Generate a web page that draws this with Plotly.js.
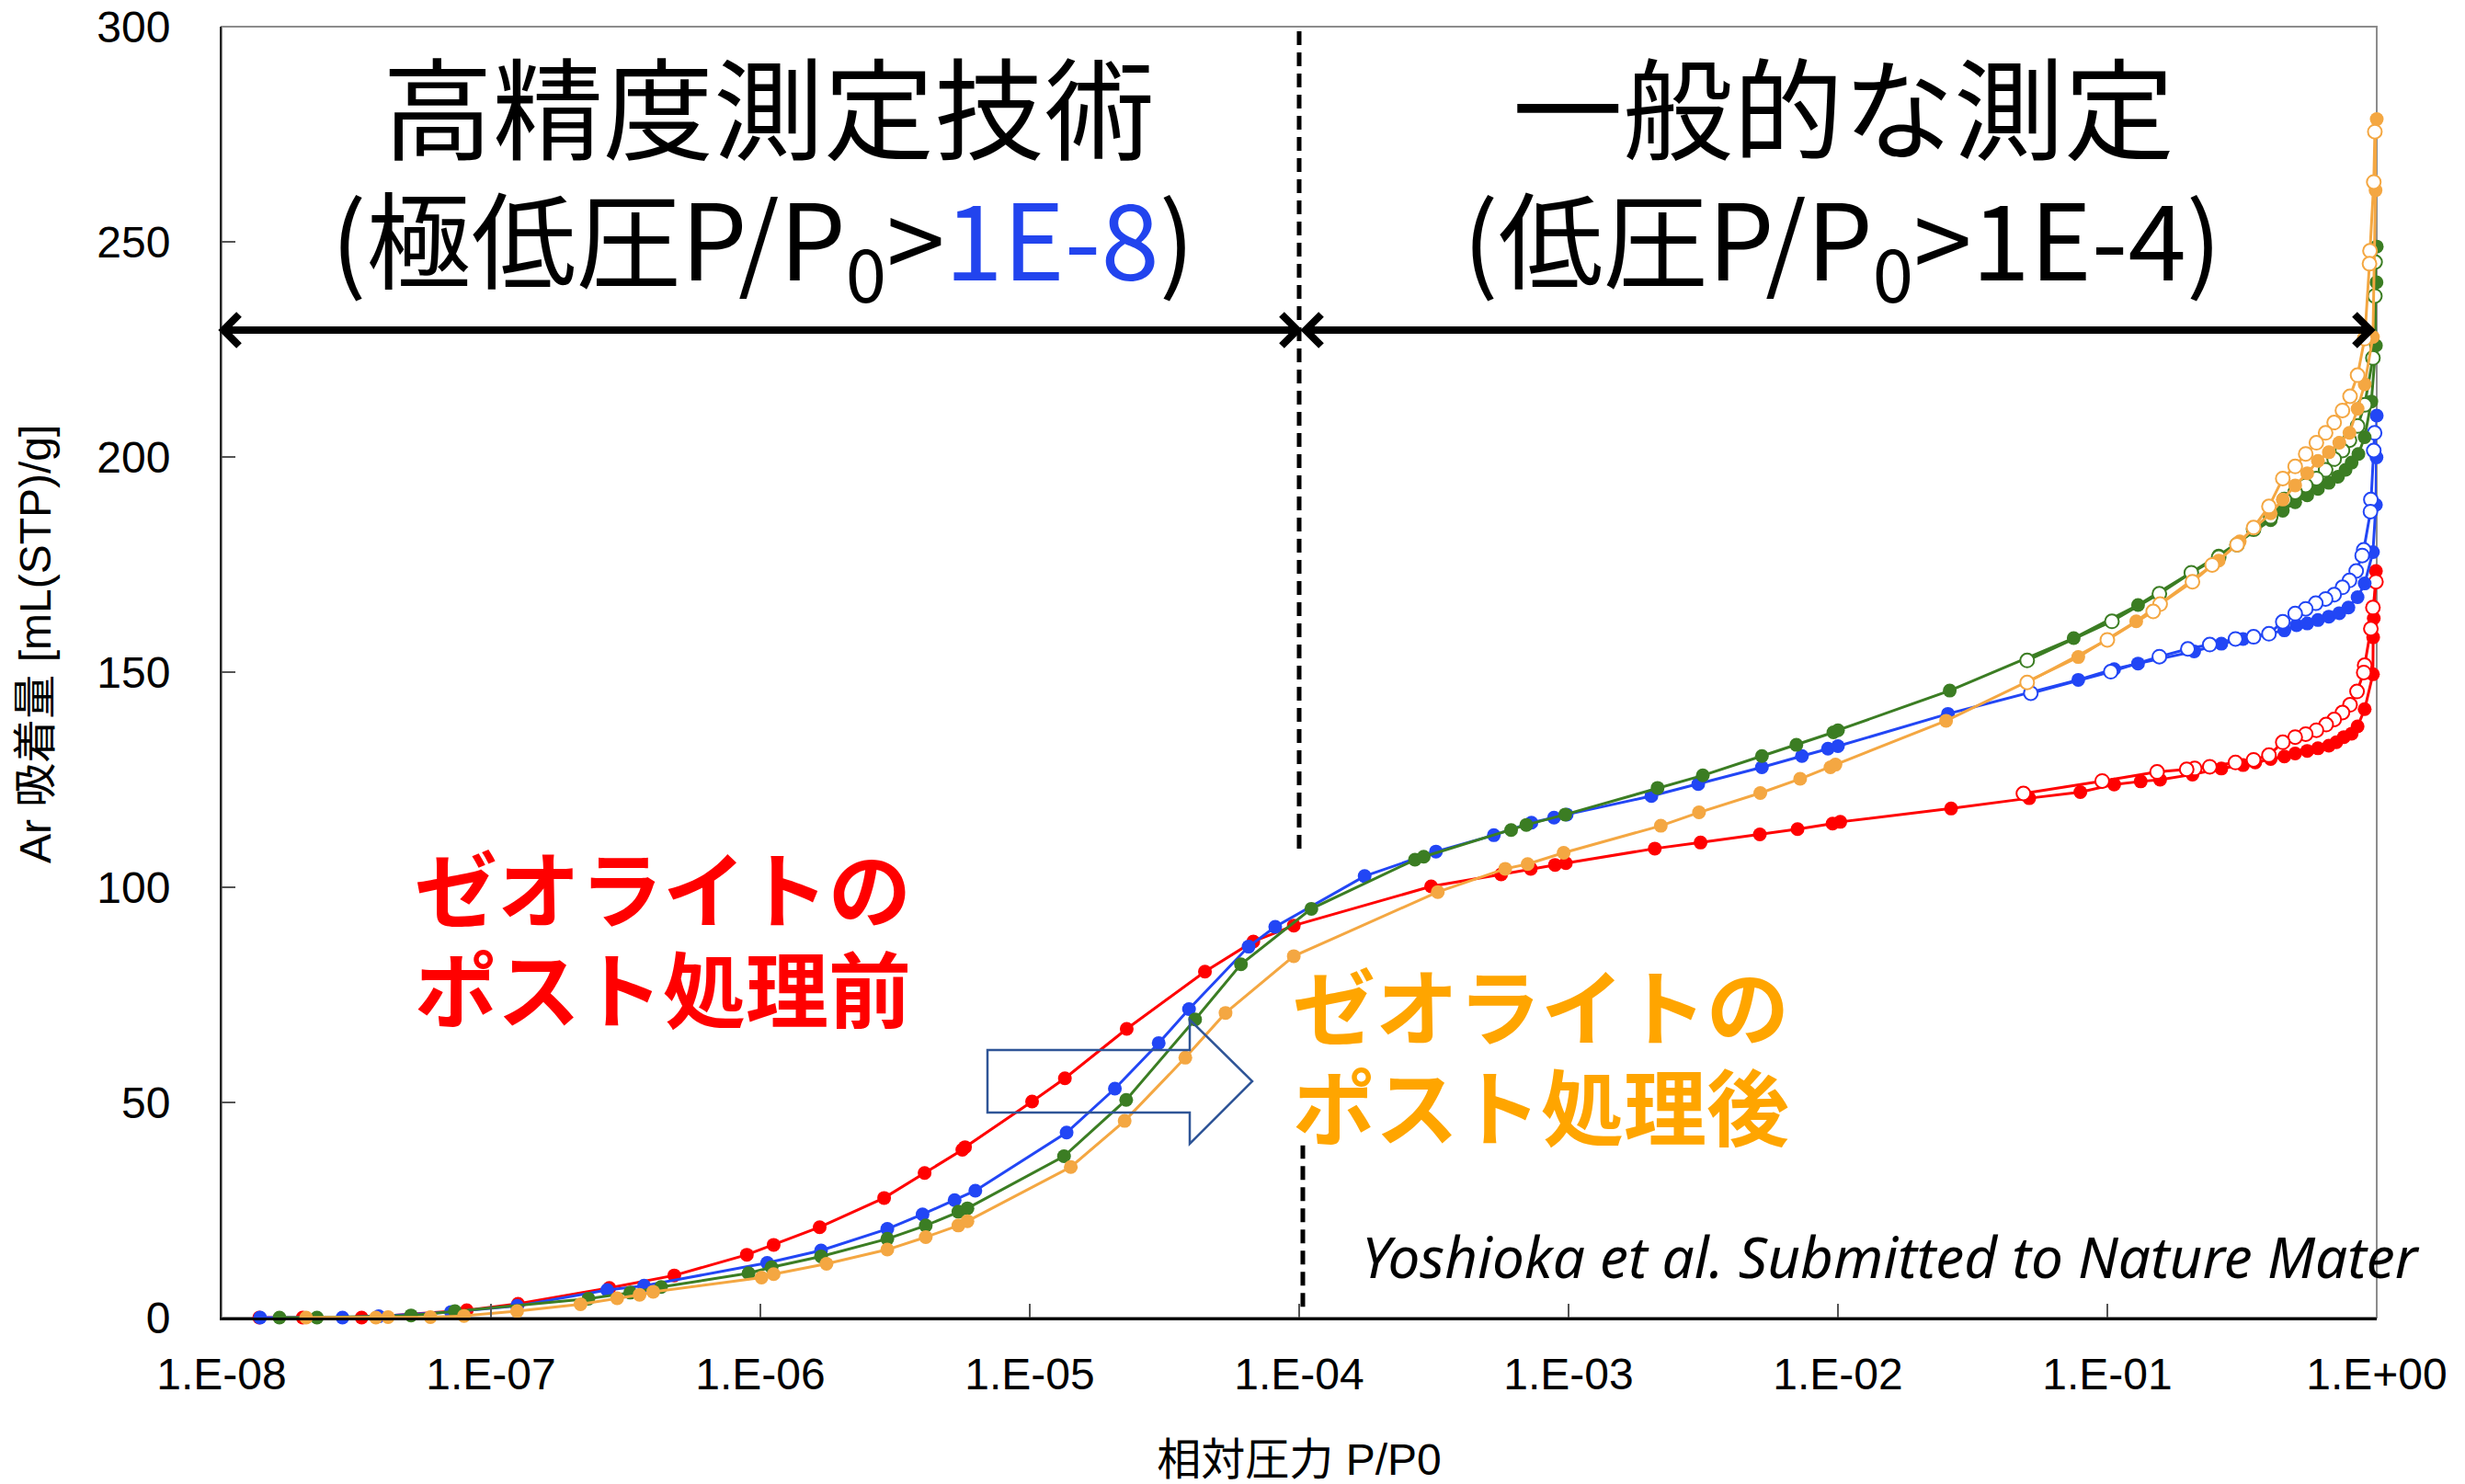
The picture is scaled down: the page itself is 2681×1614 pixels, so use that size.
<!DOCTYPE html>
<html><head><meta charset="utf-8">
<script src="https://cdn.plot.ly/plotly-3.0.1.min.js"></script>
<style>html,body{margin:0;padding:0;background:#fff;}#chart{width:2681px;height:1614px;}</style>
</head><body><div id="chart"></div>
<script>
// ---- axis ticks ----
const xTickVals = [1e-8, 1e-7, 1e-6, 1e-5, 1e-4, 1e-3, 1e-2, 1e-1, 1];
const xTickText = ['1.E-08','1.E-07','1.E-06','1.E-05','1.E-04','1.E-03','1.E-02','1.E-01','1.E+00'];
const yTickVals = [0, 50, 100, 150, 200, 250, 300];

// ---- ゼオライト ポスト処理前 (red) ----
const redAdsX = [1.38e-8,2.0e-8,3.31e-8,8.13e-8,1.26e-7,2.75e-7,4.79e-7,8.91e-7,1.12e-6,1.66e-6,2.88e-6,4.07e-6,5.62e-6,5.75e-6,1.02e-5,1.35e-5,2.29e-5,4.47e-5,6.76e-5,9.55e-5,3.09e-4,5.62e-4,7.24e-4,8.91e-4,9.77e-4,2.09e-3,3.09e-3,5.13e-3,7.08e-3,9.55e-3,1.02e-2,2.63e-2,5.13e-2,7.94e-2,0.106,0.133,0.157,0.207,0.265,0.319,0.354,0.404,0.454,0.498,0.552,0.605,0.664,0.708,0.755,0.807,0.849,0.902,0.968,0.970,0.975,0.993];
const redAdsY = [0,0,0,1.7,3.2,6.9,9.8,14.6,16.9,21.0,27.8,33.6,39.0,39.6,50.2,55.6,67.1,80.4,87.4,91.1,100.2,103.0,104.3,105.2,105.6,109.0,110.4,112.3,113.5,114.8,115.2,118.3,120.7,122.1,123.9,124.6,125.0,126.2,127.6,128.4,129.0,129.8,130.4,131.1,131.7,132.3,132.9,133.7,134.9,135.7,137.4,141.4,149.5,158.1,162.5,173.5];
const redDesX = [0.993,0.968,0.951,0.902,0.895,0.845,0.796,0.746,0.695,0.649,0.597,0.545,0.498,0.448,0.398,0.349,0.299,0.240,0.211,0.197,0.153,0.0957,0.0488];
const redDesY = [171.0,165.0,160.1,151.6,149.9,145.5,142.4,140.6,139.0,137.8,136.5,135.6,134.9,133.7,130.7,129.6,129.0,128.0,127.6,127.4,126.8,124.7,121.8];

// ---- blue ----
const blueAdsX = [1.39e-8,2.81e-8,3.83e-8,7.11e-8,1.25e-7,2.70e-7,3.70e-7,1.06e-6,1.68e-6,2.96e-6,4.00e-6,5.26e-6,6.28e-6,1.37e-5,2.07e-5,3.01e-5,3.90e-5,6.49e-5,8.15e-5,1.75e-4,3.22e-4,5.28e-4,7.28e-4,8.83e-4,9.84e-4,2.03e-3,3.03e-3,5.22e-3,7.35e-3,9.18e-3,1.00e-2,2.56e-2,7.80e-2,0.106,0.130,0.210,0.265,0.319,0.454,0.504,0.552,0.605,0.664,0.726,0.785,0.849,0.902,0.968,0.993,0.998,1.0];
const blueAdsY = [0,0,0.3,1.3,2.7,6.4,7.4,12.7,15.6,20.6,24.0,27.3,29.5,43.0,53.2,63.8,71.7,86.2,90.8,102.6,108.3,112.1,115.0,116.2,116.9,121.2,124.0,127.9,130.5,132.2,132.8,140.3,148.2,150.7,152.0,154.8,156.6,157.7,159.7,160.9,161.3,162.1,162.9,163.7,165.0,167.4,170.6,177.9,188.9,199.9,209.6];
const blueDesX = [0.982,0.975,0.951,0.948,0.895,0.883,0.839,0.792,0.746,0.695,0.646,0.594,0.545,0.498,0.448,0.398,0.349,0.299,0.240,0.199,0.156,0.103,0.052];
const blueDesY = [205.6,201.5,190.1,187.3,178.4,177.1,173.5,171.3,169.7,168.0,167.0,166.0,164.7,163.6,161.7,158.9,158.2,157.7,156.4,155.4,153.6,150.1,145.1];

// ---- green ----
const greenAdsX = [1.64e-8,2.26e-8,5.05e-8,7.35e-8,2.30e-7,3.29e-7,4.28e-7,9.04e-7,1.10e-6,1.68e-6,2.96e-6,4.11e-6,5.43e-6,5.87e-6,1.34e-5,2.28e-5,4.11e-5,6.08e-5,1.11e-4,2.69e-4,2.90e-4,6.12e-4,6.97e-4,9.72e-4,2.14e-3,3.15e-3,5.22e-3,7.01e-3,9.62e-3,1.00e-2,2.60e-2,7.50e-2,0.130,0.259,0.404,0.448,0.498,0.552,0.605,0.664,0.718,0.766,0.807,0.855,0.902,0.955,0.993,0.998,1.0];
const greenAdsY = [0,0,0.5,1.5,4.4,5.8,7.1,10.3,11.7,14.2,18.3,21.4,24.6,25.4,37.5,50.6,69.3,82.1,95.0,106.4,107.1,113.3,114.5,116.9,123.1,126.0,130.5,133.1,136.0,136.5,145.7,157.9,165.6,177.1,185.3,187.5,189.5,191.1,192.6,194.0,195.4,197.0,198.7,200.7,204.6,212.9,225.9,240.6,248.9];
const greenDesX = [0.986,0.984,0.968,0.902,0.849,0.792,0.746,0.695,0.646,0.597,0.545,0.498,0.454,0.404,0.349,0.303,0.259,0.205,0.156,0.104,0.0504];
const greenDesY = [245.3,237.4,223.0,212.1,207.2,203.9,201.5,199.5,197.0,195.0,193.4,191.8,190.1,186.1,183.2,179.6,176.7,173.1,168.2,161.8,152.7];

// ---- ゼオライト ポスト処理後 (orange) ----
const orangeAdsX = [2.06e-8,3.74e-8,4.15e-8,5.96e-8,7.94e-8,1.25e-7,2.15e-7,2.94e-7,3.56e-7,4.00e-7,1.01e-6,1.12e-6,1.76e-6,2.96e-6,4.11e-6,5.43e-6,5.87e-6,1.42e-5,2.25e-5,3.78e-5,5.33e-5,9.55e-5,3.27e-4,5.82e-4,7.05e-4,9.59e-4,2.20e-3,3.05e-3,5.15e-3,7.24e-3,9.38e-3,9.79e-3,2.52e-2,7.80e-2,0.128,0.259,0.310,0.404,0.448,0.498,0.552,0.605,0.664,0.726,0.792,0.849,0.902,0.968,0.990,1.0];
const orangeAdsY = [0,0,0.1,0.1,0.4,1.5,3.1,4.5,5.3,6.0,9.3,10.1,12.5,15.8,18.7,21.4,22.4,35.0,45.7,60.4,70.8,84.0,98.9,104.3,105.4,108.0,114.3,117.4,121.9,125.2,127.9,128.5,138.7,153.5,161.8,175.9,180.4,186.9,190.1,193.4,196.2,199.1,201.1,203.3,205.6,211.2,216.9,227.9,262.0,278.5];
const orangeDesX = [0.984,0.975,0.944,0.940,0.902,0.849,0.796,0.746,0.695,0.646,0.597,0.545,0.498,0.448,0.398,0.349,0.303,0.245,0.207,0.157,0.148,0.100,0.0504];
const orangeDesY = [275.6,263.9,247.9,244.9,227.5,219.0,214.1,210.8,208.0,205.6,203.3,200.7,197.8,195.0,188.5,183.6,179.6,174.9,171.0,165.8,164.1,157.5,147.6];

// ---- styling ----
const C_RED = '#FF0000', C_BLUE = '#2246F5', C_GREEN = '#3B7D23', C_ORANGE = '#F4A742';
const W = 2681, H = 1614, ML = 241, MR = 96, MT = 29, MB = 181;
const PW = W - ML - MR, PH = H - MT - MB;
const px = v => (v - ML) / PW;          // pixel x -> paper
const py = v => (MT + PH - v) / PH;     // pixel y -> paper

function ads(x, y, c) {
  return {x: x, y: y, type: 'scatter', mode: 'lines+markers', cliponaxis: false, showlegend: false,
    line: {color: c, width: 3}, marker: {color: c, size: 15, symbol: 'circle'}};
}
function des(x, y, c) {
  return {x: x, y: y, type: 'scatter', mode: 'lines+markers', cliponaxis: false, showlegend: false,
    line: {color: c, width: 3}, marker: {color: '#FFFFFF', size: 15, symbol: 'circle', line: {color: c, width: 2}}};
}
const data = [
  ads(redAdsX, redAdsY, C_RED), des(redDesX, redDesY, C_RED),
  ads(blueAdsX, blueAdsY, C_BLUE), des(blueDesX, blueDesY, C_BLUE),
  ads(greenAdsX, greenAdsY, C_GREEN), des(greenDesX, greenDesY, C_GREEN),
  ads(orangeAdsX, orangeAdsY, C_ORANGE), des(orangeDesX, orangeDesY, C_ORANGE)
];

const JP = '"Noto Sans CJK JP", "Noto Sans", sans-serif';
const AR = '"Liberation Sans", Arial, "Noto Sans CJK JP", sans-serif';

// double-headed arrows as shapes
const arrowY = py(359);
const hx = 17 / PW, hy = 17 / PH, lw = 8;
function dblArrow(xL, xR) {
  return [
    {type: 'line', xref: 'paper', yref: 'paper', x0: xL + 3/PW, x1: xR - 3/PW, y0: arrowY, y1: arrowY, line: {color: '#000', width: lw}},
    {type: 'path', xref: 'paper', yref: 'paper', path: `M ${xL+hx},${arrowY+hy} L ${xL},${arrowY} L ${xL+hx},${arrowY-hy}`, line: {color: '#000', width: lw}},
    {type: 'path', xref: 'paper', yref: 'paper', path: `M ${xR-hx},${arrowY+hy} L ${xR},${arrowY} L ${xR-hx},${arrowY-hy}`, line: {color: '#000', width: lw}}
  ];
}

const shapes = [
  {type: 'rect', xref: 'paper', yref: 'paper', x0: 0, x1: 1, y0: 0, y1: 1, layer: 'below', line: {color: '#8C8C8C', width: 2}},
  {type: 'line', xref: 'paper', yref: 'y', x0: 0.5, x1: 0.5, y0: 109, y1: 300, line: {color: '#000', width: 5, dash: '15px,8px'}},
  {type: 'line', xref: 'paper', yref: 'y', x0: 0.5017, x1: 0.5017, y0: 2.5, y1: 40, line: {color: '#000', width: 5, dash: '15px,8px'}},
  ...dblArrow(px(243), px(1411)),
  ...dblArrow(px(1420), px(2578)),
  {type: 'path', xref: 'paper', yref: 'paper', layer: 'above',
   path: `M ${px(1074)},${py(1142)} L ${px(1294)},${py(1142)} L ${px(1294)},${py(1109)} L ${px(1362)},${py(1176)} L ${px(1294)},${py(1244)} L ${px(1294)},${py(1210)} L ${px(1074)},${py(1210)} Z`,
   line: {color: '#2F5597', width: 2.5}, fillcolor: 'rgba(0,0,0,0)'}
];

const ann = (text, x, y, size, color, opts) => Object.assign({
  text: text, xref: 'paper', yref: 'paper', x: px(x), y: py(y), showarrow: false,
  xanchor: 'center', yanchor: 'middle', font: {family: JP, size: size, color: color}
}, opts || {});

const annotations = [
  ann('高精度測定技術', 836, 113, 120, '#000'),
  ann('(極低圧P/P<sub>0</sub>><span style="color:#2244EE">1E-8</span>)', 829, 263, 114, '#000'),
  ann('一般的な測定', 2005, 113, 120, '#000'),
  ann('(低圧P/P<sub>0</sub>>1E-4)', 2003, 263, 114, '#000'),
  ann('ゼオライトの', 449, 963, 90, '#FF0000', {xanchor: 'left', font: {family: JP, size: 90, color: '#FF0000', weight: 700}}),
  ann('ポスト処理前', 449, 1072, 90, '#FF0000', {xanchor: 'left', font: {family: JP, size: 90, color: '#FF0000', weight: 700}}),
  ann('ゼオライトの', 1404, 1091, 90, '#FFA500', {xanchor: 'left', font: {family: JP, size: 90, color: '#FFA500', weight: 700}}),
  ann('ポスト処理後', 1404, 1200, 90, '#FFA500', {xanchor: 'left', font: {family: JP, size: 90, color: '#FFA500', weight: 700}}),
  ann('Yoshioka et al. Submitted to Nature Mater', 2056, 1366, 62, '#000', {font: {family: '"Noto Sans", "Open Sans", sans-serif', size: 62, color: '#000', style: 'italic'}}),
  // y-axis title (placed as rotated text to match the reference position)
  ann('Ar 吸着量 [mL(STP)/g]', 38, 701, 48, '#000', {textangle: -90, font: {family: AR, size: 48, color: '#000'}})
];

const layout = {
  width: W, height: H,
  margin: {l: ML, r: MR, t: MT, b: MB, pad: 0},
  paper_bgcolor: '#FFFFFF', plot_bgcolor: '#FFFFFF',
  showlegend: false,
  font: {family: AR, size: 48, color: '#000'},
  xaxis: {
    type: 'log', range: [-8, 0], autorange: false,
    tickmode: 'array', tickvals: xTickVals, ticktext: xTickText,
    ticks: 'inside', ticklen: 15, tickwidth: 1.5, tickcolor: '#555',
    showline: true, linecolor: '#000', linewidth: 3, showgrid: false, zeroline: false,
    tickfont: {family: AR, size: 48, color: '#000'}, ticklabelstandoff: 17,
    title: {text: '相対圧力 P/P0', font: {family: AR, size: 48, color: '#000'}, standoff: 52},
    automargin: false
  },
  yaxis: {
    range: [0, 300], autorange: false,
    tickmode: 'array', tickvals: yTickVals,
    ticks: 'inside', ticklen: 15, tickwidth: 1.5, tickcolor: '#555',
    showline: true, linecolor: '#222', linewidth: 2, showgrid: false, zeroline: false,
    tickfont: {family: AR, size: 48, color: '#000'}, ticklabelstandoff: 44,
    automargin: false
  },
  shapes: shapes,
  annotations: annotations
};

Plotly.newPlot('chart', data, layout, {staticPlot: true, displayModeBar: false});
</script>
</body></html>
